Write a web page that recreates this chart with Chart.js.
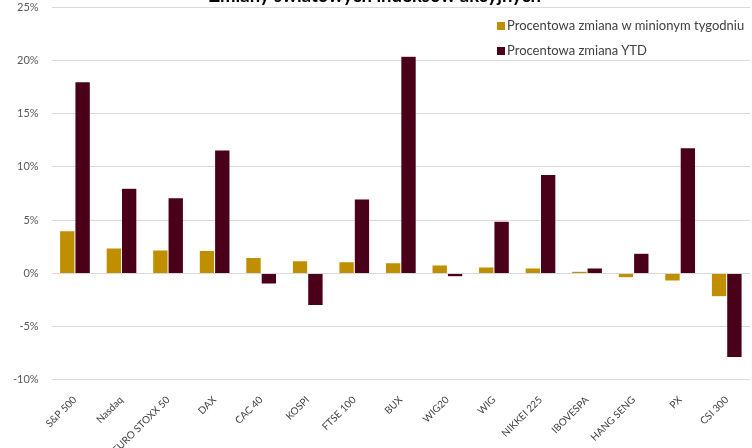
<!DOCTYPE html>
<html>
<head>
<meta charset="utf-8">
<script src="https://cdn.jsdelivr.net/npm/chart.js@4.4.1/dist/chart.umd.min.js"></script>
<style>
  html, body { margin: 0; padding: 0; background: #fff; overflow: hidden; }
  #wrap { position: relative; width: 752px; height: 448px; overflow: hidden; }
  #c { position: absolute; left: 0; top: -20px; }
  .leg { position: absolute; left: 497px; font-family: Lato, "Open Sans", sans-serif; font-size: 13px; color: #404040; white-space: nowrap; line-height: 15px; }
  .leg span.sw { display: inline-block; width: 8px; height: 8px; margin-right: 2px; vertical-align: 0px; }
</style>
</head>
<body>
<div id="wrap">
  <canvas id="c" width="752" height="482"></canvas>
  <div class="leg" style="top:18px;"><span class="sw" style="background:#BF8F00"></span>Procentowa zmiana w minionym tygodniu</div>
  <div class="leg" style="top:43px;"><span class="sw" style="background:#4A0018"></span>Procentowa zmiana YTD</div>
</div>
<script>
const title = 'Zmiany światowych indeksów akcyjnych';
const categories = ['S&P 500','Nasdaq','EURO STOXX 50','DAX','CAC 40','KOSPI','FTSE 100','BUX','WIG20','WIG','NIKKEI 225','IBOVESPA','HANG SENG','PX','CSI 300'];
const seriesNames = ['Procentowa zmiana w minionym tygodniu','Procentowa zmiana YTD'];
const weekly = [4.0, 2.4, 2.2, 2.15, 1.5, 1.2, 1.1, 1.0, 0.8, 0.6, 0.5, 0.2, -0.4, -0.7, -2.2];
const ytd = [18.0, 8.0, 7.1, 11.6, -1.0, -3.0, 7.0, 20.4, -0.3, 4.9, 9.3, 0.5, 1.9, 11.8, -7.9];
const yTicks = [-10, -5, 0, 5, 10, 15, 20, 25];

new Chart(document.getElementById('c'), {
  type: 'bar',
  data: {
    labels: categories,
    datasets: [
      { label: seriesNames[0], data: weekly, backgroundColor: '#BF8F00', borderColor: 'rgba(255,255,255,0.5)', borderWidth: 0.5 },
      { label: seriesNames[1], data: ytd, backgroundColor: '#4A0018', borderColor: 'rgba(255,230,235,0.6)', borderWidth: 0.5 }
    ]
  },
  options: {
    responsive: false,
    animation: false,
    devicePixelRatio: 1,
    layout: { padding: { left: 0, right: 2, top: 0, bottom: 0 } },
    datasets: { bar: { categoryPercentage: 0.66, barPercentage: 1.0 } },
    plugins: {
      legend: { display: false },
      tooltip: { enabled: false },
      title: {
        display: true, text: title, color: '#000',
        font: { family: 'Lato, "Open Sans", sans-serif', size: 18.5, weight: 'bold' },
        padding: { top: 5, bottom: 0 }
      }
    },
    scales: {
      x: {
        grid: { display: false },
        border: { display: false },
        ticks: {
          color: '#404040', autoSkip: false, maxRotation: 45, minRotation: 45, padding: 6,
          font: { family: 'Lato, "Open Sans", sans-serif', size: 10 }
        }
      },
      y: {
        min: -10, max: 25,
        afterBuildTicks: (axis) => { axis.ticks = yTicks.map(v => ({ value: v })); },
        grid: { color: '#D9D9D9', lineWidth: 1, drawTicks: false },
        border: { display: false },
        ticks: {
          color: '#595959', padding: 13,
          font: { family: 'Lato, "Open Sans", sans-serif', size: 11 },
          callback: (v) => v + '%'
        }
      }
    }
  }
});
</script>
</body>
</html>
